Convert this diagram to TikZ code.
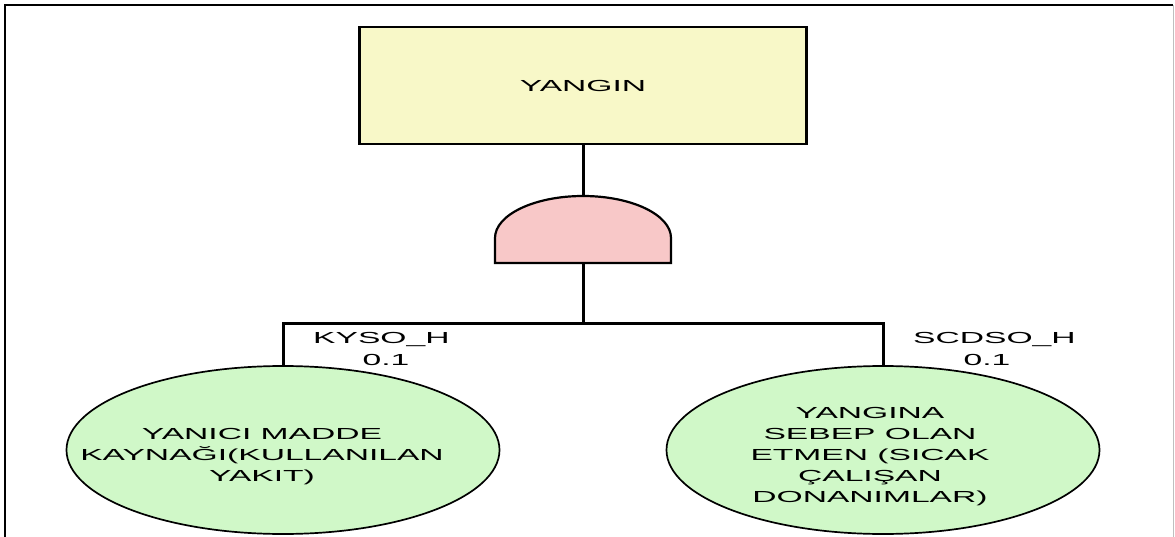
\documentclass[tikz,border=0pt]{standalone}
\usepackage{fontspec}
\newfontfamily\agacfont[FakeStretch=2.1]{Liberation Sans}
\usepackage{pgf,tikz}
\usetikzlibrary{shapes.geometric}
\definecolor{kuturenk}{RGB}{248,248,200}
\definecolor{kapirenk}{RGB}{248,200,200}
\definecolor{olayrenk}{RGB}{208,248,200}

\begin{document}
\begin{tikzpicture}[x=1pt,y=-1pt,
  yazi/.style={font=\agacfont\fontsize{16}{21}\selectfont, align=center, inner sep=0pt},
  kutu/.style={draw, line width=2.7pt, fill=kuturenk, minimum width=447pt, minimum height=117pt, yazi},
  olay/.style={draw, ellipse, line width=1.7pt, fill=olayrenk, minimum width=433pt, minimum height=168pt, inner sep=0pt},
  kapi/.style={draw, line width=2.2pt, fill=kapirenk},
  baglanti/.style={line width=3pt}]
\useasboundingbox (0,0) rectangle (1175,537);
\draw[line width=1.5pt] (5,537) -- (5,5) -- (1173,5);
\draw[line width=1pt, black!25] (1173,5) -- (1173,537);

\node [kutu] (yangin) at (583,85.5) {YANGIN};

\draw[kapi] (495,263) -- (495,238) arc[start angle=180, end angle=360, x radius=88, y radius=42] -- (671,263) -- cycle;
\coordinate (kapiust) at (583,196);
\coordinate (kapialt) at (583,263);
\coordinate (ayrim) at (583,323);

\node [olay] (sol) at (283,450) {};
\node [olay] (sag) at (883,450) {};
\node [yazi] (soltext) at (262,457) {YANICI MADDE\\KAYNAĞI(KULLANILAN\\YAKIT)};
\node [yazi] (sagtext) at (870,457) {YANGINA\\SEBEP OLAN\\ETMEN (SICAK\\ÇALIŞAN\\DONANIMLAR)};

\node [yazi, anchor=west] (kyso) at (313,340) {KYSO\_H};
\node [yazi] (kysodeger) at (386,360) {0.1};
\node [yazi, anchor=west] (scdso) at (913,340) {SCDSO\_H};
\node [yazi] (scdsodeger) at (987,360) {0.1};

\draw[baglanti] (yangin.south) -- (kapiust);
\draw[baglanti] (kapialt) -- (ayrim);
\draw[baglanti] (sol.north) |- (ayrim) -| (sag.north);
\end{tikzpicture}
\end{document}
